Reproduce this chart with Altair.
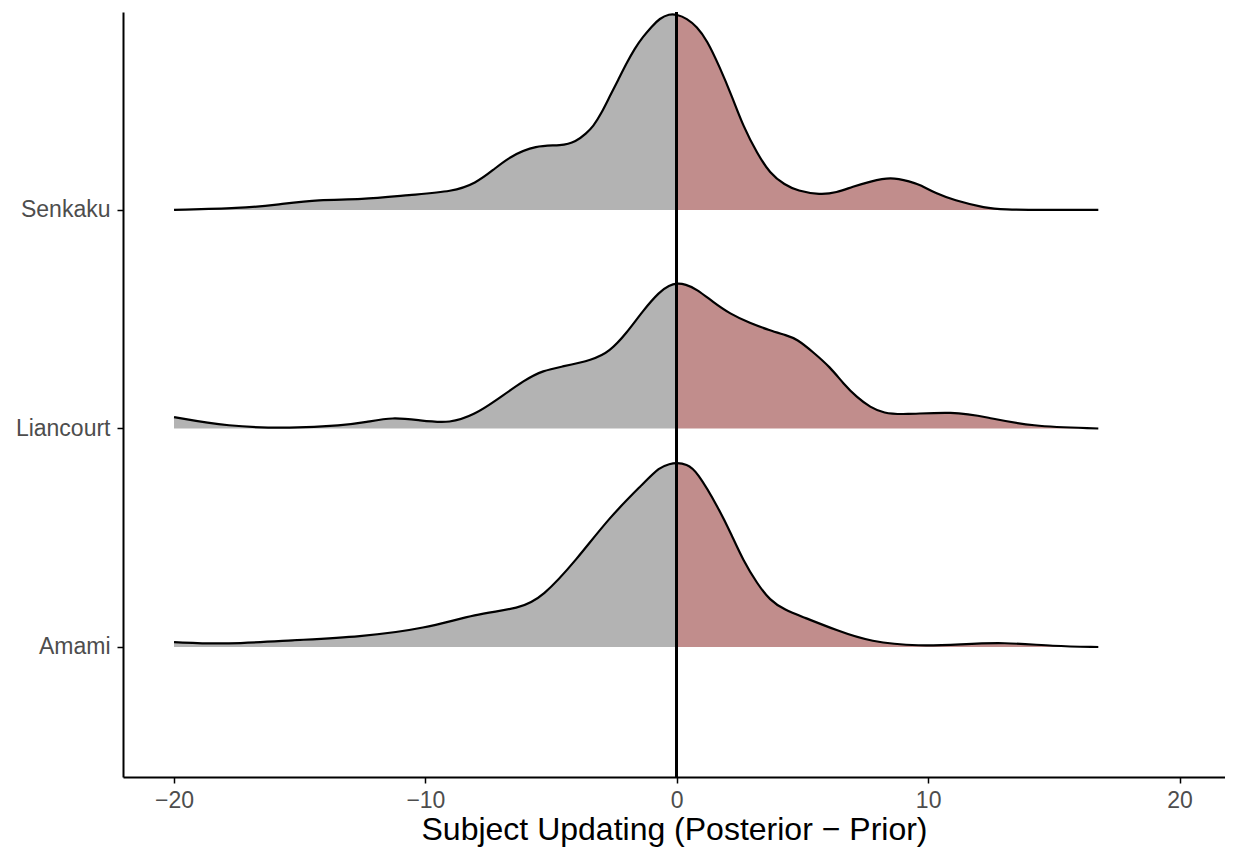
import altair as alt
import pandas as pd

# Ridge names and their baseline positions on the y scale
ridge_names = ["Amami", "Liancourt", "Senkaku"]
ridge_pos = [1, 2, 3]

# Density curves (x, ridge height in y-scale units)
senkaku_x = [-20.0, -17.3, -16.0, -14.2, -12.6, -10.6, -8.9, -8.0, -7.3, -6.65,
             -5.6, -4.6, -4.0, -3.6, -3.33, -3.0, -2.67, -2.33, -2.0, -1.67,
             -1.34, -1.0, -0.68, -0.3, 0.0, 0.4, 0.8, 1.2, 1.7, 2.2,
             2.65, 3.2, 3.7, 4.3, 4.8, 5.7, 6.36, 7.0, 7.7, 8.5,
             9.3, 9.7, 10.3, 11.0, 12.3, 13.0, 14.5, 16.77]
senkaku_h = [0.0, 0.008, 0.023, 0.049, 0.046, 0.069, 0.084, 0.122, 0.183, 0.244,
             0.297, 0.293, 0.313, 0.351, 0.381, 0.442, 0.519, 0.595, 0.671, 0.74,
             0.793, 0.839, 0.877, 0.897, 0.895, 0.877, 0.839, 0.778, 0.656, 0.519,
             0.381, 0.259, 0.168, 0.114, 0.088, 0.069, 0.079, 0.107, 0.13, 0.152,
             0.13, 0.114, 0.076, 0.046, 0.008, 0.002, 0.0, 0.0]

liancourt_x = [-20.0, -17.9, -15.3, -13.3, -12.36, -11.3, -10.24, -9.0, -8.0, -7.3,
               -6.0, -5.3, -4.66, -3.33, -2.67, -2.0, -1.34, -0.68, -0.3, 0.0,
               0.35, 0.78, 1.45, 2.11, 2.91, 3.7, 4.37, 4.77, 5.43, 6.1,
               6.63, 7.16, 7.7, 8.23, 9.0, 11.0, 12.34, 14.06, 16.77]
liancourt_h = [0.052, 0.009, 0.0, 0.014, 0.029, 0.052, 0.037, 0.022, 0.067, 0.119,
               0.227, 0.265, 0.281, 0.314, 0.352, 0.436, 0.540, 0.627, 0.655, 0.665,
               0.66, 0.639, 0.578, 0.525, 0.482, 0.449, 0.426, 0.41, 0.349, 0.281,
               0.205, 0.143, 0.097, 0.07, 0.063, 0.078, 0.052, 0.009, 0.0]

amami_x = [-20.0, -17.9, -15.3, -12.6, -10.0, -8.0, -6.25, -5.33, -4.0, -2.67,
           -1.34, -0.68, -0.28, 0.0, 0.39, 0.78, 1.71, 2.18, 2.64, 3.2,
           3.7, 4.3, 5.03, 6.36, 7.69, 9.68, 11.27, 13.0, 15.0, 16.77]
amami_h = [0.022, 0.012, 0.031, 0.046, 0.084, 0.152, 0.175, 0.229, 0.397, 0.595,
           0.747, 0.824, 0.838, 0.843, 0.836, 0.809, 0.626, 0.513, 0.397, 0.29,
           0.214, 0.169, 0.137, 0.076, 0.023, 0.003, 0.012, 0.022, 0.003, 0.0]

x_ticks = [-20, -10, 0, 10, 20]

curves = [(amami_x, amami_h), (liancourt_x, liancourt_h), (senkaku_x, senkaku_h)]
rows = []
for name, pos, (xs, hs) in zip(ridge_names, ridge_pos, curves):
    for xv, hv in zip(xs, hs):
        rows.append({"ridge": name, "x": xv, "base": pos, "top": pos + hv})
df = pd.DataFrame(rows)

W, H = 1102, 765
xscale = alt.Scale(domain=[-22.03, 21.81], nice=False, zero=False)
yscale = alt.Scale(domain=[0.405, 3.906], nice=False, zero=False)

FONT = "Liberation Sans"
xaxis = alt.Axis(values=x_ticks, title="Subject Updating (Posterior \u2212 Prior)", grid=False,
                 domainColor="black", domainWidth=2, tickColor="black", tickWidth=1.5, tickSize=6,
                 labelColor="#4D4D4D", labelFontSize=23, labelFont=FONT, labelPadding=6,
                 titleFont=FONT, titleFontSize=32, titleFontWeight="normal", titleColor="black",
                 titlePadding=2)
label_expr = "datum.value == 1 ? 'Amami' : datum.value == 2 ? 'Liancourt' : 'Senkaku'"
yaxis = alt.Axis(values=ridge_pos, labelExpr=label_expr, title=None, grid=False,
                 domainColor="black", domainWidth=2, tickColor="black", tickWidth=1.5, tickSize=6,
                 labelColor="#4D4D4D", labelFontSize=23, labelFont=FONT, labelPadding=7)

base = alt.Chart(df)
enc = dict(
    x=alt.X("x:Q", scale=xscale, axis=xaxis),
    y=alt.Y("top:Q", scale=yscale, axis=yaxis),
    detail="ridge:N",
)

INTERP = "basis"
grey = base.transform_filter("datum.x <= 0").mark_area(interpolate=INTERP, color="#B3B3B3").encode(
    y2="base:Q", **enc)
rose = base.transform_filter("datum.x >= 0").mark_area(interpolate=INTERP, color="#C18D8C").encode(
    y2="base:Q", **enc)
outline = base.mark_line(interpolate=INTERP, color="black", strokeWidth=2.2).encode(**enc)
vline = alt.Chart(df).mark_rule(color="black", strokeWidth=2).encode(
    x=alt.datum(0, scale=xscale), y=alt.value(0), y2=alt.value(H))

chart = alt.layer(grey, rose, outline, vline).properties(
    width=W, height=H,
    autosize=alt.AutoSizeParams(type="none"),
    padding={"left": 115, "top": 4, "right": 0, "bottom": 70},
    background="white",
).configure_view(stroke=None)

chart.save("out.html", embed_options={"renderer": "svg", "actions": False})
